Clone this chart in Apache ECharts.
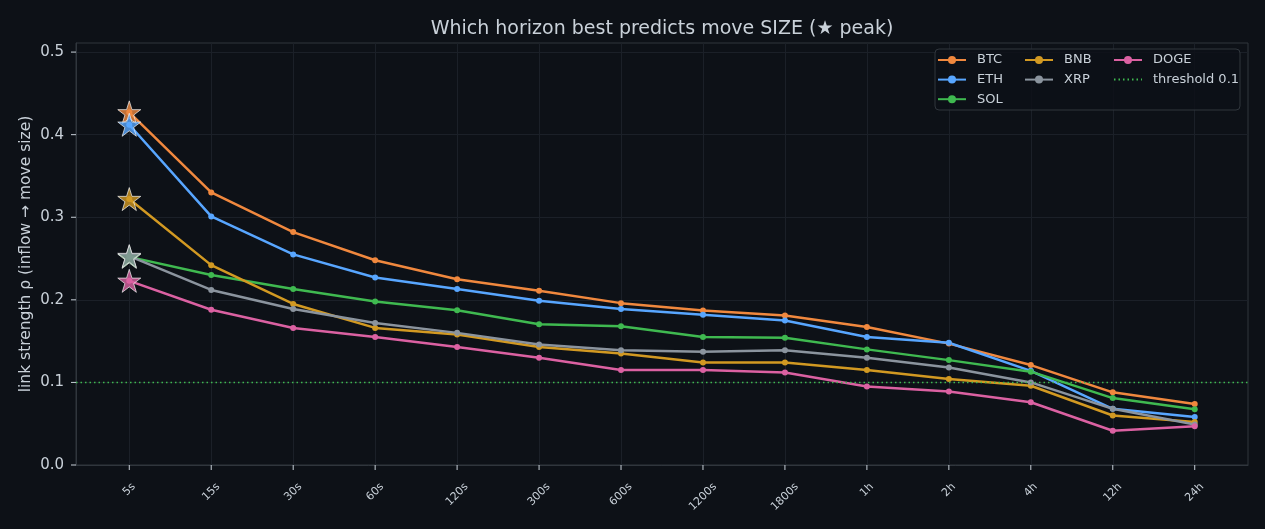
<!DOCTYPE html>
<html>
<head>
<meta charset="utf-8">
<script src="https://cdn.jsdelivr.net/npm/echarts@6/dist/echarts.min.js"></script>
<style>
html,body{margin:0;padding:0;background:#0d1117;}
#c{width:1265px;height:529px;}
</style>
</head>
<body>
<div id="c"></div>
<script>
const categories = ['5s','15s','30s','60s','120s','300s','600s','1200s','1800s','1h','2h','4h','12h','24h'];
const BTC  = [0.427,0.330,0.282,0.248,0.225,0.211,0.196,0.187,0.181,0.167,0.147,0.121,0.088,0.074];
const ETH  = [0.412,0.301,0.255,0.227,0.213,0.199,0.189,0.182,0.175,0.155,0.148,0.114,0.068,0.058];
const SOL  = [0.252,0.230,0.213,0.198,0.1875,0.1705,0.168,0.155,0.154,0.140,0.127,0.113,0.081,0.0675];
const BNB  = [0.322,0.242,0.195,0.166,0.158,0.143,0.135,0.124,0.124,0.115,0.104,0.096,0.060,0.052];
const XRP  = [0.253,0.212,0.189,0.172,0.160,0.146,0.139,0.137,0.139,0.130,0.118,0.100,0.068,0.049];
const DOGE = [0.223,0.188,0.166,0.155,0.143,0.130,0.115,0.115,0.112,0.095,0.089,0.076,0.0415,0.047];
const THRESHOLD = 0.1;
const yTicks = [0.0,0.1,0.2,0.3,0.4,0.5];

const coins = [
  {name:'BTC', data:BTC, color:'#f0883e'},
  {name:'ETH', data:ETH, color:'#58a6ff'},
  {name:'SOL', data:SOL, color:'#3fb950'},
  {name:'BNB', data:BNB, color:'#d29922'},
  {name:'XRP', data:XRP, color:'#8b949e'},
  {name:'DOGE', data:DOGE, color:'#db61a2'}
];
const txt = '#c9d1d9';
const font = 'DejaVu Sans';
const XFONT = 11;
const MARGIN = 0.65;
const X_MIN = -MARGIN, X_MAX = categories.length - 1 + MARGIN;
const Y_MIN = 0, Y_MAX = 0.511;
const GRID = {left:76,right:17,top:43,bottom:64};
const plotW = 1265 - GRID.left - GRID.right;
const stepPx = plotW / (X_MAX - X_MIN);
const tickIdx = categories.map((c,i)=>i);

// Center rotated (45°) labels under their ticks, like matplotlib: shift anchor right by ~0.354*textWidth
const cv = document.createElement('canvas').getContext('2d');
cv.font = XFONT + 'px "' + font + '"';
const labelVals = categories.map((c,i)=> i + 0.354*cv.measureText(c).width/stepPx);

const STAR = 'path://M50,0 L61.2,34.5 L97.6,34.5 L68.2,55.9 L79.4,90.5 L50,69.1 L20.6,90.5 L31.8,55.9 L2.4,34.5 L38.8,34.5 Z';

const series = [];
coins.forEach(c=>{
  series.push({
    name:c.name, type:'line', data:c.data.map((v,i)=>[i,v]),
    symbol:'circle', symbolSize:6, showSymbol:true,
    lineStyle:{width:2.5,color:c.color}, itemStyle:{color:c.color},
    z:3, animation:false
  });
});
coins.forEach(c=>{
  let pk = 0; c.data.forEach((v,i)=>{ if(v>c.data[pk]) pk=i; });
  series.push({
    name:c.name+'_peak', type:'scatter', data:[[pk,c.data[pk]]],
    symbol:STAR, symbolSize:23,
    itemStyle:{color:c.color,borderColor:'#f0f0f0',borderWidth:0.9},
    z:5, animation:false, legendHoverLink:false
  });
});
series.push({
  name:'threshold 0.1', type:'line', data:[], symbol:'none', symbolSize:0,
  lineStyle:{color:'#3fb950',type:[1.5,3],width:1.3}, itemStyle:{color:'#3fb950'},
  markLine:{symbol:'none',silent:true,label:{show:false},
    lineStyle:{color:'#3fb950',type:[1.5,3],width:1.3},
    data:[{yAxis:THRESHOLD}]},
  animation:false
});

const legendBase = {
  orient:'vertical', itemWidth:28, itemHeight:10, itemGap:6.6, top:48.5, z:20,
  textStyle:{color:txt,fontSize:13,fontFamily:font,padding:[0,0,0,6]}
};
const legendRect = {type:'rect',shape:{x:935,y:49,width:305,height:61,r:4},
    style:{fill:'rgba(13,17,23,0.85)',stroke:'#30363d',lineWidth:1},z:15};
const chart = echarts.init(document.getElementById('c'));
chart.setOption({
  backgroundColor:'#0d1117',
  animation:false,
  title:{text:'Which horizon best predicts move SIZE (★ peak)', left:GRID.left + plotW/2 - 5, top:15, textAlign:'center',
    textStyle:{color:txt,fontSize:19,fontWeight:'normal',fontFamily:font}},
  grid:Object.assign({show:true,borderColor:'#30363d',borderWidth:1,backgroundColor:'#0d1117'},GRID),
  legend:[
    Object.assign({},legendBase,{left:932,data:['BTC','ETH','SOL']}),
    Object.assign({},legendBase,{left:1019,data:['BNB','XRP']}),
    Object.assign({},legendBase,{left:1108,data:['DOGE',{name:'threshold 0.1',itemStyle:{opacity:0}}]})
  ],
  graphic:[legendRect],
  xAxis:{type:'value',min:X_MIN,max:X_MAX,
    axisLine:{show:true,onZero:false,lineStyle:{color:'#30363d'}},
    axisTick:{show:false,customValues:tickIdx},
    axisLabel:{color:txt,fontSize:XFONT,fontFamily:font,rotate:45,margin:20,
      customValues:labelVals,formatter:v=>categories[Math.round(v)]},
    splitLine:{show:true,lineStyle:{color:'#1b2028',width:1}}},
  yAxis:{type:'value',min:Y_MIN,max:Y_MAX,
    name:'link strength ρ (inflow → move size)',nameLocation:'middle',nameGap:42,nameMoveOverlap:false,
    nameTextStyle:{color:txt,fontSize:15.5,fontFamily:font},
    axisLine:{show:true,onZero:false,lineStyle:{color:'#30363d'}},
    axisTick:{show:false,customValues:yTicks},
    axisLabel:{color:txt,fontSize:15,fontFamily:font,margin:12,customValues:yTicks,formatter:v=>v.toFixed(1)},
    splitLine:{show:true,lineStyle:{color:'#1b2028',width:1}}},
  series:series
});
// outward tick marks, positioned through the chart's own scales
const tickEls = [];
tickIdx.forEach(i=>{
  const p = chart.convertToPixel({gridIndex:0},[i,Y_MIN]);
  tickEls.push({type:'line',shape:{x1:p[0],y1:p[1],x2:p[0],y2:p[1]+5},style:{stroke:txt,lineWidth:1},z:30,silent:true});
});
yTicks.forEach(v=>{
  const p = chart.convertToPixel({gridIndex:0},[X_MIN,v]);
  tickEls.push({type:'line',shape:{x1:p[0]-5,y1:p[1],x2:p[0],y2:p[1]},style:{stroke:txt,lineWidth:1},z:30,silent:true});
});
chart.setOption({graphic:[legendRect].concat(tickEls)});
</script>
</body>
</html>
